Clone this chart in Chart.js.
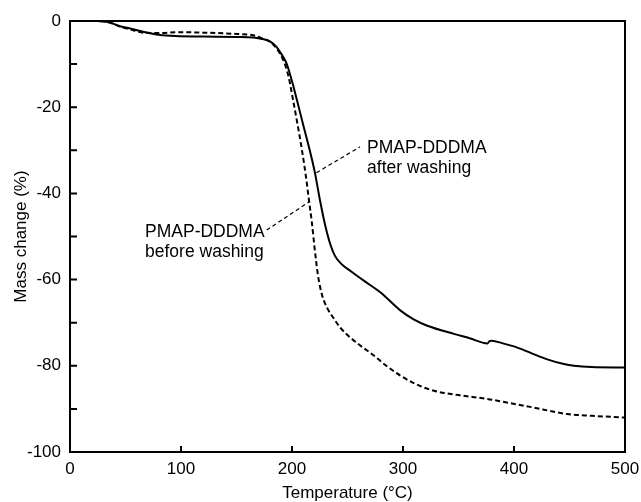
<!DOCTYPE html>
<html><head><meta charset="utf-8">
<script src="https://cdn.jsdelivr.net/npm/chart.js@4/dist/chart.umd.min.js"></script>
<style>html,body{margin:0;padding:0;background:#fff;overflow:hidden}</style>
</head><body>
<canvas id="c" width="641" height="502"></canvas>
<script>
// ---- data ----
const afterTemp = [25,35,45,55,66,80,95,120,150,165,172,180.5,186,190,195,200,204.5,210,216,220.5,225.2,230,234.5,238.7,245,252.7,265,279.8,297.8,310,321.9,345.9,360,376,378,380,390,400,415,430,445,454,470,499.5];
const afterMass = [0,-0.3,-1.2,-1.8,-2.5,-3.2,-3.5,-3.6,-3.7,-3.8,-4.1,-4.8,-6.0,-7.5,-9.8,-14,-18.4,-24,-30,-35,-41.6,-47.5,-51.8,-54.5,-56.5,-58,-60.3,-63,-67.2,-69.3,-70.7,-72.6,-73.6,-74.8,-74.3,-74.2,-74.8,-75.5,-77,-78.5,-79.6,-80,-80.3,-80.4];
const beforeTemp = [27,35,45,55,66,80,100,120,150,165,172,180,186.5,192,197,201,205,209,212.5,215.3,218,220.5,223.4,227,231.5,237.6,243,249.7,260,273.7,285,297.8,312,327.9,350,376,395,418,435,448,470,499.5];
const beforeMass = [0,-0.3,-1.3,-2.0,-2.7,-2.8,-2.6,-2.7,-3.0,-3.3,-3.9,-4.8,-6.5,-9,-13,-18.4,-24,-30,-36,-41.6,-47,-53,-59,-63.5,-66.5,-69,-71,-72.8,-75,-77.6,-80,-82.3,-84.3,-85.8,-86.8,-87.7,-88.6,-89.7,-90.6,-91.2,-91.6,-92];
const xTickValues = [0,100,200,300,400,500];
const yLabelValues = [0,-20,-40,-60,-80,-100];
const seriesNames = ['PMAP-DDDMA after washing','PMAP-DDDMA before washing'];
const labelAfter = ['PMAP-DDDMA','after washing'];
const labelBefore = ['PMAP-DDDMA','before washing'];

const FONT = '"Liberation Sans", Arial, sans-serif';

const annotations = [
  { lines: labelAfter,  textAt: {x: 267.6, y: [-30.56, -35.34]}, leader: [{x: 222.0, y: -35.2}, {x: 261.3, y: -29.2}] },
  { lines: labelBefore, textAt: {x: 67.6,  y: [-50.05, -54.83]}, leader: [{x: 177.2, y: -48.5}, {x: 215.8, y: -41.9}] }
];

const framePlugin = {
  id: 'frame',
  afterDraw(chart) {
    const {ctx, chartArea: a, scales: {x, y}} = chart;
    ctx.save();
    ctx.strokeStyle = '#000';
    ctx.lineWidth = 2;
    ctx.setLineDash([]);
    ctx.strokeRect(a.left, a.top, a.right - a.left, a.bottom - a.top);
    ctx.beginPath();
    y.ticks.forEach(t => {
      const py = y.getPixelForValue(t.value);
      ctx.moveTo(a.left, py); ctx.lineTo(a.left + 7, py);
    });
    x.ticks.forEach(t => {
      const px = x.getPixelForValue(t.value);
      ctx.moveTo(px, a.bottom); ctx.lineTo(px, a.bottom - 6);
    });
    ctx.stroke();
    annotations.forEach(an => {
      ctx.setLineDash([4, 3]);
      ctx.lineWidth = 1.2;
      ctx.beginPath();
      ctx.moveTo(x.getPixelForValue(an.leader[0].x), y.getPixelForValue(an.leader[0].y));
      ctx.lineTo(x.getPixelForValue(an.leader[1].x), y.getPixelForValue(an.leader[1].y));
      ctx.stroke();
      ctx.setLineDash([]);
      ctx.fillStyle = '#000';
      ctx.font = '17.5px ' + FONT;
      ctx.textAlign = 'left';
      ctx.textBaseline = 'alphabetic';
      an.lines.forEach((ln, i) => {
        ctx.fillText(ln, x.getPixelForValue(an.textAt.x), y.getPixelForValue(an.textAt.y[i]));
      });
    });
    ctx.restore();
  }
};

new Chart(document.getElementById('c'), {
  type: 'line',
  data: {
    datasets: [
      { label: seriesNames[0], data: afterTemp.map((t, i) => ({x: t, y: afterMass[i]})),
        borderColor: '#000', borderWidth: 2, pointRadius: 0, fill: false, cubicInterpolationMode: 'monotone' },
      { label: seriesNames[1], data: beforeTemp.map((t, i) => ({x: t, y: beforeMass[i]})),
        borderColor: '#000', borderWidth: 2, borderDash: [5, 3], pointRadius: 0, fill: false, cubicInterpolationMode: 'monotone' }
    ]
  },
  options: {
    responsive: false,
    animation: false,
    devicePixelRatio: 1,
    layout: { padding: { left: 0, top: 21, right: 16, bottom: 0 } },
    plugins: { legend: { display: false }, tooltip: { enabled: false } },
    scales: {
      x: {
        type: 'linear', min: 0, max: 500,
        afterBuildTicks: s => { s.ticks = xTickValues.map(v => ({value: v})); },
        afterFit: s => { s.height = 50; s.paddingLeft = 0; s.paddingRight = 0; },
        grid: { display: false, drawTicks: false },
        border: { display: false },
        ticks: { color: '#000', padding: 7, maxRotation: 0, font: { family: FONT, size: 17 } },
        title: { display: true, text: 'Temperature (°C)', color: '#000', padding: { top: 0, bottom: -2 }, font: { family: FONT, size: 17 } }
      },
      y: {
        type: 'linear', min: -100, max: 0,
        ticks: { stepSize: 10, color: '#000', padding: 9, font: { family: FONT, size: 17 },
          callback: v => yLabelValues.includes(v) ? String(v) : '' },
        afterFit: s => { s.width = 70; s.paddingTop = 0; s.paddingBottom = 0; },
        grid: { display: false, drawTicks: false },
        border: { display: false },
        title: { display: true, text: 'Mass change (%)', color: '#000', padding: { top: 11, bottom: 0 }, font: { family: FONT, size: 17 } }
      }
    }
  },
  plugins: [framePlugin]
});
</script>
</body></html>
